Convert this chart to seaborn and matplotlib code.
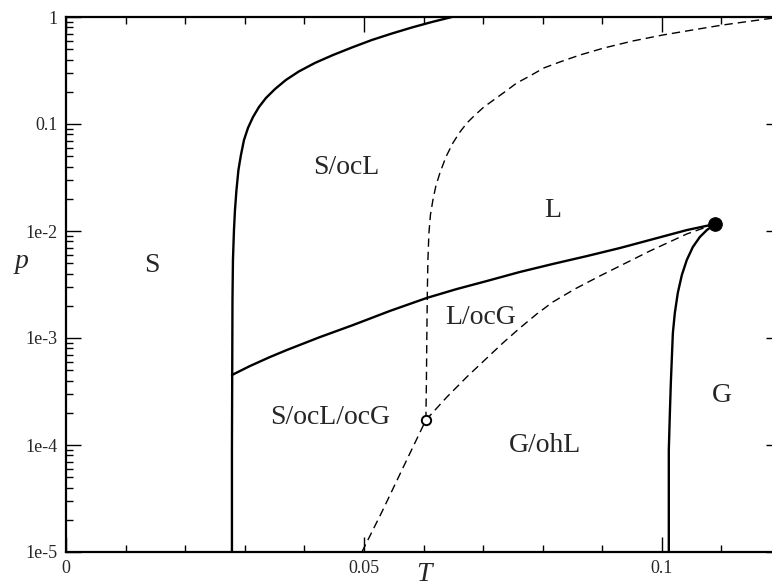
import numpy as np
import pandas as pd
import matplotlib
matplotlib.use("Agg")
import matplotlib.pyplot as plt
import matplotlib.ticker as mticker
import seaborn as sns

# ---- data (T, p) ----
# solid: S / S-ocL boundary
solid_s_T = [0.02785, 0.02785, 0.02794, 0.02802, 0.02819, 0.02836, 0.02861, 0.02894, 0.02936,
             0.02987, 0.03054, 0.03138, 0.03238, 0.03356, 0.03507, 0.03691, 0.03909, 0.04178,
             0.04480, 0.04799, 0.05134, 0.05470, 0.05805, 0.06141, 0.06477]
solid_s_p = [1.0e-5, 8.98e-5, 2.26e-3, 5.36e-3, 1.02e-2, 1.57e-2, 2.42e-2, 3.72e-2, 5.13e-2,
             7.08e-2, 9.18e-2, 0.116, 0.144, 0.175, 0.212, 0.258, 0.310, 0.372,
             0.441, 0.519, 0.610, 0.701, 0.798, 0.898, 1.0]

# solid: line from the S boundary up to the critical point
solid_l_T = [0.02785, 0.03087, 0.03423, 0.03708, 0.04262, 0.04815, 0.05436, 0.06057, 0.06560,
             0.07064, 0.07617, 0.08171, 0.08742, 0.09295, 0.09799, 0.10419, 0.10889]
solid_l_p = [4.51e-4, 5.47e-4, 6.64e-4, 7.73e-4, 1.02e-3, 1.32e-3, 1.79e-3, 2.37e-3, 2.87e-3,
             3.41e-3, 4.14e-3, 4.92e-3, 5.83e-3, 6.93e-3, 8.24e-3, 1.02e-2, 1.16e-2]

# solid: G boundary
solid_g_T = [0.10889, 0.10755, 0.10638, 0.10520, 0.10419, 0.10336, 0.10268, 0.10218, 0.10185,
             0.10168, 0.10151, 0.10134, 0.10117, 0.10117]
solid_g_p = [1.16e-2, 1.02e-2, 8.79e-3, 7.08e-3, 5.36e-3, 3.88e-3, 2.64e-3, 1.71e-3, 1.11e-3,
             6.50e-4, 3.80e-4, 1.91e-4, 8.98e-5, 1.0e-5]

# dashed: bottom -> open circle -> critical point
dash_g_T = [0.04966, 0.05134, 0.05302, 0.05470, 0.05638, 0.05839, 0.06040, 0.06393, 0.06728,
            0.07064, 0.07332, 0.07617, 0.07903, 0.08171, 0.08540, 0.08960, 0.09295, 0.09799,
            0.10419, 0.10889]
dash_g_p = [1.0e-5, 1.54e-5, 2.37e-5, 3.72e-5, 5.84e-5, 1.0e-4, 1.71e-4, 2.81e-4, 4.33e-4,
            6.50e-4, 8.98e-4, 1.24e-3, 1.68e-3, 2.17e-3, 2.87e-3, 3.80e-3, 4.71e-3, 6.50e-3,
            9.38e-3, 1.16e-2]

# dashed: open circle -> top right
dash_l_T = [0.06040, 0.06049, 0.06057, 0.06065, 0.06074, 0.06091, 0.06116, 0.06158, 0.06208,
            0.06275, 0.06376, 0.06493, 0.06611, 0.06728, 0.06862, 0.07013, 0.07198, 0.07383,
            0.07567, 0.07785, 0.08020, 0.08289, 0.08624, 0.09027, 0.09513, 0.10017, 0.10520,
            0.11023, 0.11510, 0.12000]
dash_l_p = [1.71e-4, 4.05e-4, 1.19e-3, 2.81e-3, 5.36e-3, 9.58e-3, 1.41e-2, 1.95e-2, 2.64e-2,
            3.48e-2, 4.92e-2, 6.64e-2, 8.41e-2, 0.102, 0.121, 0.144, 0.171, 0.203,
            0.242, 0.281, 0.334, 0.380, 0.441, 0.513, 0.597, 0.679, 0.757,
            0.842, 0.918, 1.0]

crit_T, crit_p = [0.10889], [1.16e-2]
triple_T, triple_p = [0.06040], [1.71e-4]

region_names = ["S", "S/ocL", "L", "L/ocG", "S/ocL/ocG", "G/ohL", "G"]
region_T = [0.0144, 0.0470, 0.0817, 0.0695, 0.0443, 0.0804, 0.1101]
region_p = [4.81e-3, 3.88e-2, 1.57e-2, 1.57e-3, 1.79e-4, 1.0e-4, 2.93e-4]

y_ticks = [1e-5, 1e-4, 1e-3, 1e-2, 0.1, 1]
y_labels = ["1e-5", "1e-4", "1e-3", "1e-2", "0.1", "1"]
x_ticks = [0, 0.05, 0.1]
x_labels = ["0", "0.05", "0.1"]

# ---- plot ----
sns.set_style("ticks")
plt.rcParams["font.family"] = ["Liberation Serif", "DejaVu Serif"]

fig = plt.figure(figsize=(7.72, 5.88), dpi=100)
# the right edge of the axes runs past the image border, like the original
ax = fig.add_axes([66 / 772, 36 / 588, 715 / 772, 535 / 588])

solid_kw = dict(color="black", linewidth=1.7, sort=False, estimator=None)
dash_kw = dict(color="black", linewidth=1.0, sort=False, estimator=None, linestyle=(0, (6, 3.6)))

sns.lineplot(x=solid_s_T, y=solid_s_p, ax=ax, **solid_kw)
sns.lineplot(x=solid_l_T, y=solid_l_p, ax=ax, **solid_kw)
sns.lineplot(x=solid_g_T, y=solid_g_p, ax=ax, **solid_kw)
sns.lineplot(x=dash_g_T, y=dash_g_p, ax=ax, **dash_kw)
sns.lineplot(x=dash_l_T, y=dash_l_p, ax=ax, **dash_kw)

sns.scatterplot(x=crit_T, y=crit_p, ax=ax, s=95, color="black", edgecolor="black", zorder=5)
sns.scatterplot(x=triple_T, y=triple_p, ax=ax, s=45, color="white", edgecolor="black",
                linewidth=1.4, zorder=5)

for name, t, p in zip(region_names, region_T, region_p):
    ax.text(t, p, name, fontsize=20, ha="center", va="center")

ax.set_yscale("log")
ax.set_xlim(0, 0.12)
ax.set_ylim(1e-5, 1)

ax.set_xticks(x_ticks)
ax.set_xticklabels(x_labels)
ax.xaxis.set_minor_locator(mticker.MultipleLocator(0.01))
ax.set_yticks(y_ticks)
ax.set_yticklabels(y_labels)
ax.yaxis.set_minor_locator(mticker.LogLocator(base=10, subs=np.arange(2, 10)))
ax.yaxis.set_minor_formatter(mticker.NullFormatter())

ax.tick_params(which="both", direction="in", top=True, right=True, labelsize=13, width=1.0, color="black")
ax.tick_params(which="major", length=11, pad=6)
ax.tick_params(which="minor", length=5)
for s in ax.spines.values():
    s.set_linewidth(1.6)
    s.set_color("black")

ax.set_xlabel("T", fontsize=20, style="italic")
ax.xaxis.set_label_coords(0.5, -0.018)
ax.set_ylabel("p", fontsize=20, style="italic", rotation=0)
ax.yaxis.set_label_coords(-0.062, 0.52)

fig.savefig("out.png", dpi=100)
